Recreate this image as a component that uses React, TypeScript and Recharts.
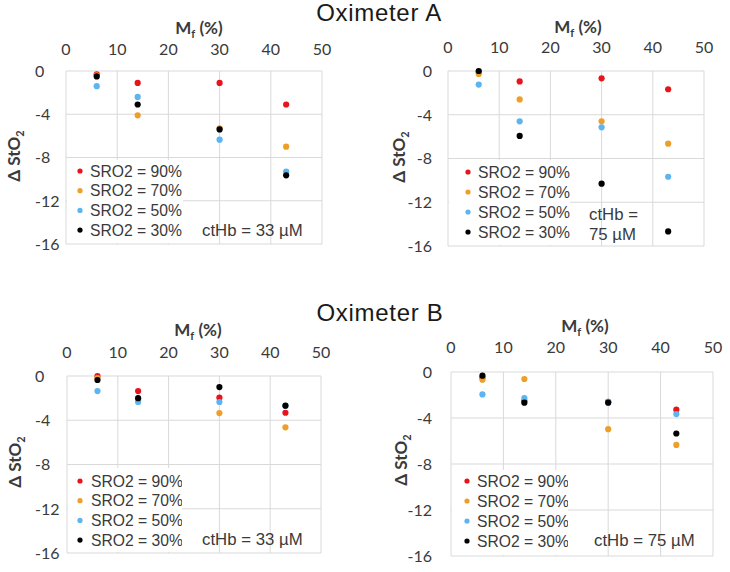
import React from 'react';
import { ScatterChart, Scatter, XAxis, YAxis, CartesianGrid, Legend } from 'recharts';

// ---------- data ----------
const mfValues = [6, 14, 30, 43];
const xTicks = [0, 10, 20, 30, 40, 50];
const yTicks = [0, -4, -8, -12, -16];
const seriesNames = ['SRO2 = 90%', 'SRO2 = 70%', 'SRO2 = 50%', 'SRO2 = 30%'];
const seriesColors = ['#E8141B', '#EE9F2A', '#5CB4F0', '#000000'];
const titles = ['Oximeter A', 'Oximeter B'];

// Oximeter A, ctHb = 33 µM
const a33_sro90 = [-0.3, -1.1, -1.1, -3.1];
const a33_sro70 = [-0.4, -4.1, -5.3, -7.0];
const a33_sro50 = [-1.4, -2.4, -6.35, -9.3];
const a33_sro30 = [-0.5, -3.1, -5.4, -9.65];

// Oximeter A, ctHb = 75 µM
const a75_sro90 = [-0.1, -0.95, -0.67, -1.67];
const a75_sro70 = [-0.27, -2.6, -4.6, -6.64];
const a75_sro50 = [-1.24, -4.6, -5.15, -9.67];
const a75_sro30 = [0.0, -5.94, -10.3, -14.67];

// Oximeter B, ctHb = 33 µM
const b33_sro90 = [0.0, -1.36, -1.96, -3.32];
const b33_sro70 = [-0.2, -2.2, -3.35, -4.64];
const b33_sro50 = [-1.36, -2.35, -2.35, -2.7];
const b33_sro30 = [-0.36, -2.0, -1.0, -2.68];

// Oximeter B, ctHb = 75 µM
const b75_sro90 = [-0.5, -2.5, -2.6, -3.28];
const b75_sro70 = [-0.67, -0.61, -4.97, -6.34];
const b75_sro50 = [-1.95, -2.27, -2.6, -3.66];
const b75_sro30 = [-0.32, -2.67, -2.67, -5.35];

const ctHb33 = ['ctHb = 33 µM'];
const ctHb75Split = ['ctHb =', '75 µM'];
const ctHb75 = ['ctHb = 75 µM'];

// ---------- layout ----------
const TICK_FONT = 'Lato, "Liberation Sans", sans-serif';
const TEXT_FONT = '"Liberation Sans", Arial, sans-serif';
const TEXT_COLOR = '#3a3a3a';

type PanelLayout = {
  left: number; top: number; width: number; height: number;
  margin: { top: number; left: number; right: number; bottom: number };
  yTickX: number; yTickAnchor: 'start' | 'end';
  xTickBaseline: number;
  mfX: number; mfY: number;
  yLabelX: number; yLabelY: number;
  legendBox: { left: number; top: number; width: number; height: number };
  legendRow0: number; legendStep: number; legendDotX: number; legendTextX: number;
  ctX: number; ctY: number[];
};

const layouts: PanelLayout[] = [
  {
    left: 0, top: 0, width: 365, height: 290,
    margin: { top: 41, left: 26, right: 43, bottom: 46 },
    yTickX: 35, yTickAnchor: 'start', xTickBaseline: 55,
    mfX: 199, mfY: 34, yLabelX: 20, yLabelY: 156,
    legendBox: { left: 67, top: 160, width: 116, height: 83 },
    legendRow0: 171, legendStep: 19.7, legendDotX: 80, legendTextX: 90,
    ctX: 202, ctY: [235.5],
  },
  {
    left: 365, top: 0, width: 365, height: 290,
    margin: { top: 41, left: 43, right: 26, bottom: 44 },
    yTickX: 67, yTickAnchor: 'end', xTickBaseline: 53,
    mfX: 213, mfY: 33, yLabelX: 40, yLabelY: 157,
    legendBox: { left: 84, top: 160, width: 121, height: 85 },
    legendRow0: 172, legendStep: 20, legendDotX: 103, legendTextX: 113,
    ctX: 224, ctY: [220, 239.5],
  },
  {
    left: 0, top: 290, width: 365, height: 282,
    margin: { top: 56, left: 27, right: 44, bottom: 19 },
    yTickX: 35, yTickAnchor: 'start', xTickBaseline: 68,
    mfX: 198, mfY: 46, yLabelX: 21, yLabelY: 172,
    legendBox: { left: 68, top: 178, width: 114, height: 84 },
    legendRow0: 191, legendStep: 19.7, legendDotX: 80, legendTextX: 91,
    ctX: 202, ctY: [255],
  },
  {
    left: 365, top: 290, width: 365, height: 282,
    margin: { top: 52, left: 46, right: 17, bottom: 16 },
    yTickX: 67, yTickAnchor: 'end', xTickBaseline: 63,
    mfX: 220, mfY: 42, yLabelX: 42, yLabelY: 170,
    legendBox: { left: 87, top: 180, width: 116, height: 85 },
    legendRow0: 191, legendStep: 20, legendDotX: 102, legendTextX: 112,
    ctX: 229, ctY: [256],
  },
];

const panelSeries: number[][][] = [
  [a33_sro90, a33_sro70, a33_sro50, a33_sro30],
  [a75_sro90, a75_sro70, a75_sro50, a75_sro30],
  [b33_sro90, b33_sro70, b33_sro50, b33_sro30],
  [b75_sro90, b75_sro70, b75_sro50, b75_sro30],
];
const panelCtHb = [ctHb33, ctHb75Split, ctHb33, ctHb75];

const toPoints = (vals: number[]) => mfValues.map((x, i) => ({ x, y: vals[i] }));

function Panel({ idx }: { idx: number }) {
  const L = layouts[idx];
  const series = panelSeries[idx];
  const ct = panelCtHb[idx];

  const xTick = (p: any) => (
    <text x={p.x} y={L.xTickBaseline} textAnchor="middle" fontFamily={TICK_FONT} fontSize={16} fill={TEXT_COLOR}>
      {p.payload.value}
    </text>
  );
  const yTick = (p: any) => (
    <text x={L.yTickX} y={p.y} dy="0.36em" textAnchor={L.yTickAnchor} fontFamily={TICK_FONT} fontSize={16} fill={TEXT_COLOR}>
      {p.payload.value}
    </text>
  );

  const legendContent = () => {
    const b = L.legendBox;
    return (
      <svg width={b.width} height={b.height} style={{ display: 'block' }}>
        {seriesNames.map((n, i) => {
          const cy = L.legendRow0 + i * L.legendStep - b.top;
          return (
            <g key={n}>
              <circle cx={L.legendDotX - b.left} cy={cy} r={2.6} fill={seriesColors[i]} />
              <text x={L.legendTextX - b.left} y={cy} dy="0.36em" fontFamily={TEXT_FONT} fontSize={15.7} fill={TEXT_COLOR}>
                {n}
              </text>
            </g>
          );
        })}
      </svg>
    );
  };

  return (
    <div style={{ position: 'absolute', left: L.left, top: L.top }}>
      <ScatterChart width={L.width} height={L.height} margin={L.margin}>
        <CartesianGrid stroke="#d9d9d9" strokeWidth={1} />
        <XAxis
          dataKey="x" type="number" domain={[0, 50]} ticks={xTicks} orientation="top"
          axisLine={false} tickLine={false} height={30} tick={xTick} interval={0}
        />
        <YAxis
          dataKey="y" type="number" domain={[-16, 0]} ticks={yTicks}
          axisLine={false} tickLine={false} width={40} tick={yTick} interval={0}
        />
        {series.map((vals, i) => (
          <Scatter
            key={seriesNames[i]}
            name={seriesNames[i]}
            data={toPoints(vals)}
            fill={seriesColors[i]}
            isAnimationActive={false}
            shape={(p: any) => <circle cx={p.cx} cy={p.cy} r={3.1} fill={seriesColors[i]} />}
          />
        ))}
        <Legend
          layout="vertical" align="center" verticalAlign="middle"
          wrapperStyle={{
            left: L.legendBox.left, top: L.legendBox.top,
            width: L.legendBox.width, height: L.legendBox.height,
            background: '#ffffff', margin: 0, padding: 0,
          }}
          content={legendContent}
        />
        <text x={L.mfX} y={L.mfY} textAnchor="middle" fontFamily={TICK_FONT} fontWeight="bold" fontSize={17} fill={TEXT_COLOR}>
          M<tspan dy={4} fontSize={11}>f</tspan><tspan dy={-4}> (%)</tspan>
        </text>
        <text
          x={L.yLabelX} y={L.yLabelY} textAnchor="middle"
          transform={`rotate(-90, ${L.yLabelX}, ${L.yLabelY})`}
          fontFamily={TICK_FONT} fontWeight="bold" fontSize={17} fill={TEXT_COLOR}
        >
          Δ StO<tspan dy={4} fontSize={11}>2</tspan>
        </text>
        {ct.map((line, i) => (
          <text key={line} x={L.ctX} y={L.ctY[i]} fontFamily={TEXT_FONT} fontSize={16.8} fill={TEXT_COLOR}>
            {line}
          </text>
        ))}
      </ScatterChart>
    </div>
  );
}

function Title({ text, cx, baseline }: { text: string; cx: number; baseline: number }) {
  return (
    <svg style={{ position: 'absolute', left: cx - 150, top: baseline - 24, overflow: 'visible' }} width={300} height={32}>
      <text x={150} y={24} textAnchor="middle" fontFamily={TEXT_FONT} fontSize={24} letterSpacing={0.7} fill="#1a1a1a">
        {text}
      </text>
    </svg>
  );
}

export default function App() {
  return (
    <div style={{ position: 'absolute', left: 0, top: 0, width: 730, height: 572, background: '#fff', overflow: 'hidden' }}>
      {layouts.map((_, i) => <Panel key={i} idx={i} />)}
      <Title text={titles[0]} cx={379} baseline={21} />
      <Title text={titles[1]} cx={380} baseline={321} />
    </div>
  );
}
